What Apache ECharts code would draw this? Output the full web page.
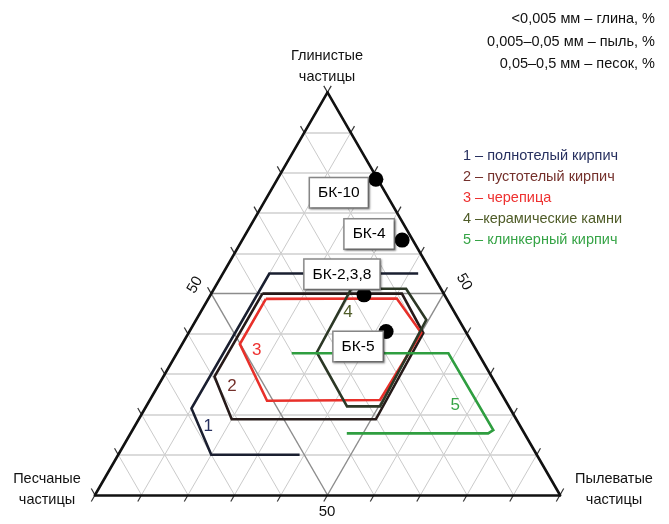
<!DOCTYPE html>
<html><head><meta charset="utf-8">
<script src="https://cdn.jsdelivr.net/npm/echarts@6/dist/echarts.min.js"></script>
<style>html,body{margin:0;padding:0;background:#fff}#c{width:669px;height:524px}</style>
</head><body><div id="c"></div>
<script>
// ---- DATA: ternary points as [clay %, silt %, sand %] ----
const poly1 = [[55,42,3],[55,10,35],[21.5,10,68.5],[10,20,70],[10,39,51]];           // open
const poly2 = [[50,11,39],[29.4,11,59.6],[18.8,20,61.2],[18.8,51,30.2],[40.2,50.5,9.3],[50,41,9],[50,11,39]];
const poly3 = [[48.7,12.4,38.9],[37.5,12.4,50.1],[23.4,25.3,51.3],[23.6,49.5,26.9],[40.3,50,9.7],[48.8,40.5,10.7],[48.7,12.4,38.9]];
const poly4 = [[51.2,29.5,19.3],[51.2,41.3,7.5],[43.5,49.5,7],[22,50.3,27.7],[22,43.2,34.8],[35.4,30,34.6],[51.2,29.5,19.3]];
const poly5 = [[35.2,24.7,40.1],[35.2,58.4,6.4],[16.1,77.6,6.3],[15.3,76.9,7.8],[15.3,46.5,38.2]]; // open
const sampleNames = ['БК-10','БК-4','БК-2,3,8','БК-5'];
const samplePoints = [[78.4,21.2,0.4],[63.3,34.4,2.3],[49.7,33,17.3],[40.6,42.3,17.1]];
const curveNumbers = ['1','2','3','4','5'];
const curveNumberPos = [[17.1,15.8,67.1],[27.1,15.9,57],[36,16.8,47.2],[45.4,31.7,22.9],[22.3,66.3,11.4]];
const legendTexts = ['1 – полнотелый кирпич','2 – пустотелый кирпич','3 – черепица','4 –керамические камни','5 – клинкерный кирпич'];
const fractionTexts = ['<0,005 мм – глина, %','0,005–0,05 мм – пыль, %','0,05–0,5 мм – песок, %'];
const gridStep = 10;
const tickLabel = '50';

// ---- styles / layout ----
const polyColors = ['#1a1f30','#261a19','#e8302a','#2c3826','#2f9e40'];
const textColors = ['#27305f','#74302b','#ee3130','#4f5c28','#36a446'];
const labelOffsets = [[-37,13.5],[-33,-6],[-22,-20.5],[-28,15]];
const FONT = '"Liberation Sans", Arial, sans-serif';
const SQ = Math.sqrt(3)/2;
function tern(p){ return [p[1] + p[0]/2, p[0]*SQ]; }
function seg(a,b){ return {coords:[tern(a),tern(b)]}; }

const horiz=[], diag=[], medial=[], frame=[], ticks=[];
for(let k=gridStep;k<100;k+=gridStep){
  const h = seg([k,0,100-k],[k,100-k,0]);
  const s1 = seg([0,k,100-k],[100-k,k,0]);
  const s2 = seg([0,100-k,k],[100-k,0,k]);
  if(k===50){ medial.push(h,s1,s2); } else { horiz.push(h); diag.push(s1,s2); }
}
frame.push(seg([0,0,100],[0,100,0]), seg([0,100,0],[100,0,0]), seg([100,0,0],[0,0,100]));
const TL = 1.6;
for(let k=0;k<=100;k+=gridStep){
  ticks.push(seg([k,0,100-k],[k+TL,-TL,100-k]));      // left edge
  ticks.push(seg([k,100-k,0],[k+TL,100-k,-TL]));      // right edge
  ticks.push(seg([0,k,100-k],[-TL,k,100-k+TL]));      // bottom edge
}

const polys = [poly1,poly2,poly3,poly4,poly5];
const series = [
  {type:'lines',coordinateSystem:'cartesian2d',silent:true,z:1,data:diag,lineStyle:{color:'#c4c4c4',width:0.9,opacity:1}},
  {type:'lines',coordinateSystem:'cartesian2d',silent:true,z:1,data:horiz,lineStyle:{color:'#cfcfcf',width:1.6,opacity:1}},
  {type:'lines',coordinateSystem:'cartesian2d',silent:true,z:2,data:medial,lineStyle:{color:'#8c8c8c',width:1.4,opacity:1}},
  {type:'lines',coordinateSystem:'cartesian2d',silent:true,z:3,data:ticks,lineStyle:{color:'#333',width:1.2,opacity:1}},
  {type:'lines',coordinateSystem:'cartesian2d',silent:true,z:3,data:frame,lineStyle:{color:'#111',width:2.6,opacity:1,cap:'round'}},
];
polys.forEach((p,i)=>series.push({type:'line',z:4,data:p.map(tern),showSymbol:false,symbol:'none',
  lineStyle:{color:polyColors[i],width:2.6,join:'miter',opacity:1},silent:true}));
series.push({type:'scatter',z:5,symbolSize:15,itemStyle:{color:'#000',opacity:1},silent:true,
  data:samplePoints.map((p,i)=>({value:tern(p),label:{offset:labelOffsets[i]}})),
  label:{show:true,position:'inside',formatter:(d)=>sampleNames[d.dataIndex],opacity:1,
    fontFamily:FONT,fontSize:15.5,color:'#000',backgroundColor:'#fff',borderColor:'#8a8a8a',borderWidth:1.5,
    padding:[6,8],lineHeight:17,shadowColor:'rgba(0,0,0,0.35)',shadowBlur:2,shadowOffsetX:1,shadowOffsetY:1}});
series.push({type:'scatter',z:6,symbolSize:0,silent:true,itemStyle:{opacity:1},
  data:curveNumberPos.map((p,i)=>({value:tern(p),label:{color:textColors[i]}})),
  label:{show:true,position:'inside',opacity:1,formatter:(d)=>curveNumbers[d.dataIndex],fontFamily:FONT,fontSize:17}});

const graphics = [];
function txt(t,x,y,opt){ graphics.push({type:'text',x:x,y:y,rotation:(opt&&opt.rot)||0,z:10,
  style:{text:t,fill:(opt&&opt.fill)||'#111',font:((opt&&opt.size)||14.5)+'px '+FONT,
  align:(opt&&opt.align)||'center',verticalAlign:'middle'}}); }
txt('Глинистые',327,56); txt('частицы',327,77);
txt('Песчаные',47,479); txt('частицы',47,500);
txt('Пылеватые',614,479); txt('частицы',614,500);
fractionTexts.forEach((t,i)=>txt(t,655,[19,42,64][i],{align:'right'}));
legendTexts.forEach((t,i)=>txt(t,463,156+i*21,{align:'left',fill:textColors[i]}));
txt(tickLabel,327,512,{size:15});
txt(tickLabel,195,285,{rot:Math.PI/3,size:15});
txt(tickLabel,464,282,{rot:-Math.PI/3,size:15});

const chart = echarts.init(document.getElementById('c'));
chart.setOption({
  animation:false,
  grid:{left:48.5,right:62.5,top:53.25,bottom:5.75},
  xAxis:{type:'value',min:-10,max:110,show:false},
  yAxis:{type:'value',min:-5,max:95,show:false},
  series:series,
  graphic:graphics
});
</script></body></html>
